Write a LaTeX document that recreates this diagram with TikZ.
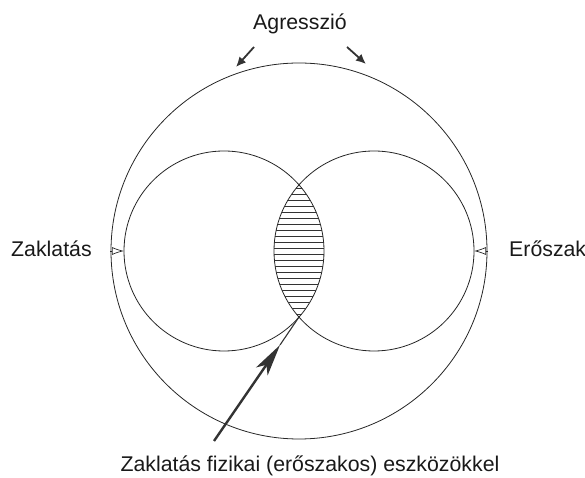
\documentclass[tikz,border=0pt]{standalone}
\usepackage{fontspec}
\setmainfont{Liberation Sans}
\usetikzlibrary{arrows.meta}
\begin{document}
\begin{tikzpicture}[x=1pt,y=1pt,
  ring/.style={draw=black!85,line width=0.8pt},
  lbl/.style={inner sep=0pt,font=\fontsize{21.3}{25}\selectfont,text=black!90},
  hatch/.style={draw=black!80,line width=0.7pt},
  toparrow/.style={draw=black!80,line width=1.8pt,-{Latex[length=10pt,width=9pt]}},
  sidearrow/.style={draw=black!85,line width=0.7pt,-{Latex[open,length=12pt,width=8pt]}},
  bigarrow/.style={draw=black!80,line width=2.4pt,-{Stealth[length=32pt,width=14pt,inset=8pt]}},
  thinshaft/.style={draw=black!80,line width=1.1pt}]
\useasboundingbox (0,0) rectangle (585,478);
% circles
\coordinate (O) at (299,227);
\coordinate (L) at (224,227);
\coordinate (R) at (374,227);
\draw[ring] (O) circle[radius=188];
\draw[ring] (L) circle[radius=100];
\draw[ring] (R) circle[radius=100];
% hatched lens
\begin{scope}
  \clip (L) circle[radius=100];
  \clip (R) circle[radius=100];
  \foreach \yy in {164,170,...,292} {
    \draw[hatch] (270,\yy) -- (330,\yy);
  }
\end{scope}
\coordinate (lensbot) at (299,161);
% labels
\node[lbl,anchor=base] (agr) at (300,448) {Agresszió};
\node[lbl,anchor=base west] (zak) at (11,221.3) {Zaklatás};
\node[lbl,anchor=base west] (ero) at (509,221.3) {Erőszak};
\node[lbl,anchor=base] (fiz) at (310,6.3) {Zaklatás fizikai (erőszakos) eszközökkel};
% top arrows
\coordinate (ta1) at (254,431);
\coordinate (th1) at (236,411);
\coordinate (ta2) at (347,431);
\coordinate (th2) at (366,414);
\draw[toparrow] (ta1) -- (th1);
\draw[toparrow] (ta2) -- (th2);
% side arrowheads
\coordinate (sl1) at (110,227);
\coordinate (sl2) at (124,227);
\coordinate (sr1) at (488,227);
\coordinate (sr2) at (474,227);
\draw[sidearrow] (sl1) -- (sl2);
\draw[sidearrow] (sr1) -- (sr2);
% bottom arrow
\coordinate (btail) at (214,37);
\coordinate (bmid) at (280,133);
\draw[thinshaft] (bmid) -- (lensbot);
\draw[bigarrow] (btail) -- (bmid);
\end{tikzpicture}
\end{document}
